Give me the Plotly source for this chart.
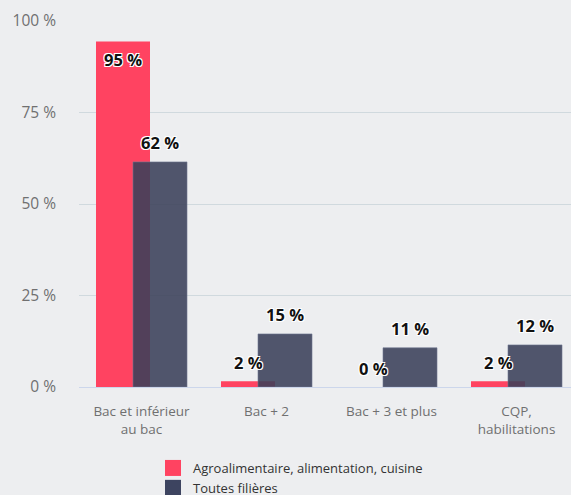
import plotly.graph_objects as go

categories = ["Bac et inférieur<br>au bac", "Bac + 2", "Bac + 3 et plus", "CQP,<br>habilitations"]
series_names = ["Agroalimentaire, alimentation, cuisine", "Toutes filières"]
agro_values = [94.4, 1.6, 0.0, 1.6]
all_values = [61.5, 14.5, 10.7, 11.5]
agro_labels = ["95 %", "2 %", "0 %", "2 %"]
all_labels = ["62 %", "15 %", "11 %", "12 %"]
y_ticks = [0, 25, 50, 75, 100]

RED = "#ff4361"
DARK_FILL = "rgba(58,64,89,0.88)"
DARK_SOLID = "#3d4460"
BG = "#edeef0"
FONT = "Open Sans"

fig = go.Figure()
fig.add_trace(go.Bar(x=categories, y=agro_values, name=series_names[0],
                     marker=dict(color=RED, line=dict(width=0)),
                     offset=-0.364, width=0.432, showlegend=False, hoverinfo="skip"))
fig.add_trace(go.Bar(x=categories, y=all_values, name=series_names[1],
                     marker=dict(color=DARK_FILL, line=dict(width=1, color="rgba(110,118,145,0.6)")),
                     offset=-0.068, width=0.432, showlegend=False, hoverinfo="skip"))

# legend entries with large squares
for nm, col in zip(series_names, [RED, DARK_SOLID]):
    fig.add_trace(go.Scatter(x=[None], y=[None], mode="markers", name=nm,
                             marker=dict(symbol="square", size=18, color=col)))

shadow = "1px 1px 0 #fff, -1px -1px 0 #fff, 1px -1px 0 #fff, -1px 1px 0 #fff"
for vals, labs, xs in [(agro_values, agro_labels, -18.5), (all_values, all_labels, 18.5)]:
    for c, v, t in zip(categories, vals, labs):
        inside = v > 90
        fig.add_annotation(x=c, y=v, text=t, showarrow=False, xshift=xs,
                           yshift=-18 if inside else 19,
                           font=dict(family=FONT, size=16.5, color="#111", weight="bold",
                                     shadow=shadow))

fig.update_layout(
    width=571, height=495,
    margin=dict(l=79, r=0, t=21, b=108, autoexpand=False),
    paper_bgcolor=BG, plot_bgcolor=BG,
    barmode="overlay",
    font=dict(family=FONT, color="#666"),
    legend=dict(orientation="v", x=153 / 571, xref="container", xanchor="left",
                y=(495 - 453) / 495, yanchor="top", yref="container",
                font=dict(family=FONT, size=13, color="#333"),
                bgcolor="rgba(0,0,0,0)", tracegroupgap=0, itemwidth=30),
    xaxis=dict(type="category", range=[-0.5, 3.436], showgrid=False,
               showline=True, linecolor="#ccd6eb", linewidth=1,
               tickfont=dict(family=FONT, size=13.5, color="#707070"),
               ticks="", ticklabelstandoff=12, fixedrange=True),
    yaxis=dict(range=[0, 100], tickmode="linear", tick0=y_ticks[0], dtick=y_ticks[1] - y_ticks[0],
               ticksuffix=" %",
               showgrid=True, gridcolor="#d0d9de", gridwidth=1, zeroline=False,
               tickfont=dict(family=FONT, size=15.5, color="#707070"),
               ticks="", ticklabelstandoff=22, fixedrange=True),
)

fig.write_html("out.html", config={"displayModeBar": False},
               post_script="document.body.style.margin='0';document.body.style.padding='0';document.body.style.overflow='hidden';")
